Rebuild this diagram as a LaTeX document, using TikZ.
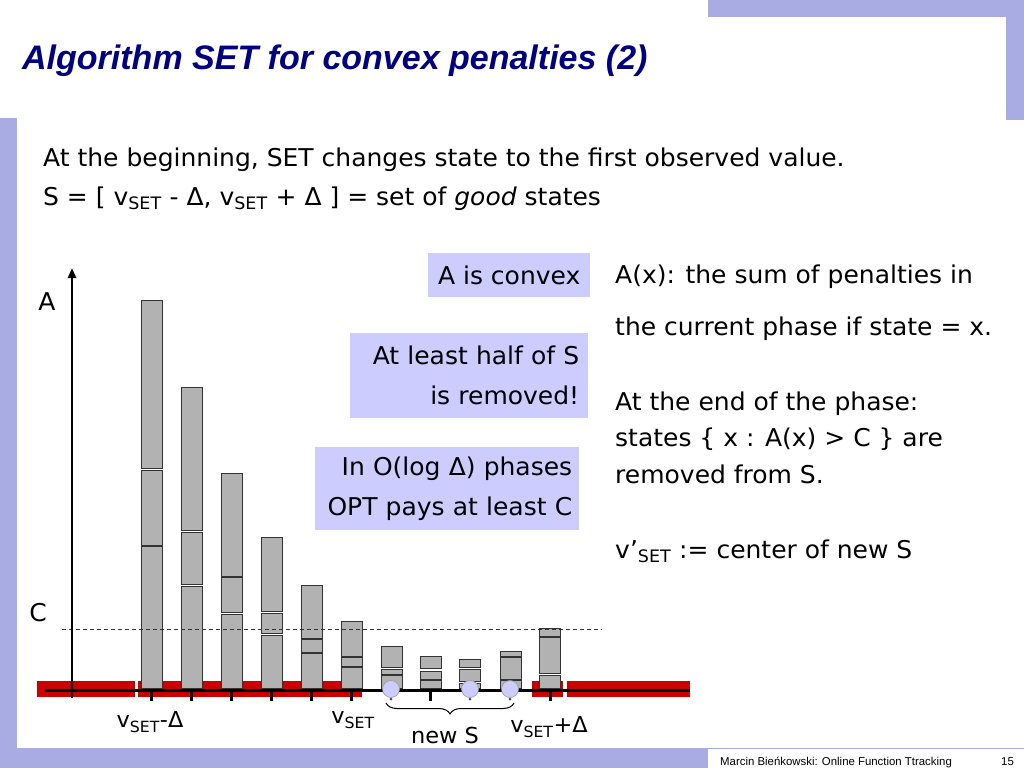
\documentclass[tikz,border=0pt]{standalone}
\usepackage{fontspec}
\setmainfont{DejaVu Sans}[FakeStretch=1.02]
\newfontfamily\arialf{Liberation Sans}
\usetikzlibrary{decorations.pathreplacing,arrows.meta}
\definecolor{lav}{RGB}{168,172,226}
\definecolor{boxfill}{RGB}{204,204,255}
\definecolor{navy}{RGB}{0,0,128}
\definecolor{barred}{RGB}{204,0,0}
\definecolor{bargray}{RGB}{178,178,178}
\newcommand\bodyfont{\fontsize{24.5}{40}\selectfont}
\newcommand\labfont{\fontsize{22}{26}\selectfont}
\begin{document}
\begin{tikzpicture}[x=1pt,y=-1pt,
  txt/.style={inner sep=0pt, anchor=base west, font=\bodyfont},
  infobox/.style={fill=boxfill, inner xsep=8pt, inner ysep=0pt, font=\bodyfont, anchor=north west},
  seg/.style={fill=bargray, draw=black!80, line width=1pt},
  redbar/.style={fill=barred},
  tickline/.style={line width=3pt},
  dot/.style={circle, fill=boxfill, draw=black!40, line width=0.6pt, minimum width=17pt, minimum height=17pt, inner sep=0pt},
  lab/.style={inner sep=0pt, font=\labfont}]
\useasboundingbox (0,0) rectangle (1024,768);
\fill[white] (0,0) rectangle (1024,768);
% frame decorations
\fill[lav] (708,0) rectangle (1024,17);
\fill[lav] (1006,0) rectangle (1024,120);
\fill[lav] (0,118) rectangle (17,768);
\fill[lav] (0,748) rectangle (708,768);
\draw[lav, line width=1pt] (708,748) -- (1024,748);
% title
\node[inner sep=0pt, anchor=base west, text=navy, font=\arialf\bfseries\itshape\fontsize{34}{40}\selectfont] (title) at (22,70) {Algorithm SET for convex penalties (2)};
% body text
\node[txt] (l1) at (43,166) {At the beginning, SET changes state to the first observed value.};
\node[txt] (l2) at (43,205) {S = [ v\textsubscript{SET} - Δ, v\textsubscript{SET} + Δ ] = set of \textit{good} states};
\node[txt] (r1) at (615,283) {A(x): the sum of penalties in};
\node[txt] (r2) at (615,335) {the current phase if state = x.};
\node[txt] (r3) at (615,410) {At the end of the phase:};
\node[txt] (r4) at (615,446) {states \{ x : A(x) > C \} are};
\node[txt] (r5) at (615,483) {removed from S.};
\node[txt] (r6) at (615,558) {v’\textsubscript{SET} := center of new S};
% boxes
\node[infobox, minimum width=162pt, minimum height=44pt] (b1) at (428,253) {A is convex};
\node[infobox, minimum width=238pt, minimum height=85pt, text width=220pt, align=right] (b2) at (350,333) {At least half of S\\is removed!};
\node[infobox, minimum width=264pt, minimum height=83pt, text width=250pt, inner xsep=7pt, align=right] (b3) at (315,447) {In O(log Δ) phases\\OPT pays at least C};
% red bars
\fill[redbar] (37,681) rectangle (135,697);
\fill[redbar] (138,681) rectangle (362,697);
\fill[redbar] (532,681) rectangle (563,697);
\fill[redbar] (567,681) rectangle (690,697);
% bars
\foreach \x/\segs in {141/{300/468,470/545,546/688},
                      181/{387/530,532/584,586/688},
                      221/{473/576,577/612,614/688},
                      261/{537/611,613/633,635/688},
                      301/{585/638,639/652,653/688},
                      341/{621/656,657/666,667/688},
                      381/{646/667,669/674,675/688},
                      420/{656/668,671/679,680/688},
                      459/{659/667,669/681,683/688},
                      500/{651/656,657/679,680/688},
                      539/{628/636,637/673,675/688}}{
  \foreach \ya/\yb in \segs { \draw[seg] (\x,\ya) rectangle (\x+21,\yb); }
}
% threshold line C
\coordinate (cl) at (62,629);
\coordinate (cr) at (602,629);
\draw[dashed, dash pattern=on 4pt off 3pt, line width=0.7pt, black!80] (cl) -- (cr);
% axes
\coordinate (xa) at (45,690);
\coordinate (xb) at (690,690);
\coordinate (ya) at (72,698);
\coordinate (yb) at (72,268);
\draw[line width=3pt] (xa) -- (xb);
\draw[line width=2.5pt, -{Triangle[length=10pt,width=8pt]}] (ya) -- (yb);
\foreach \t in {151,191,231,271,311,351,430,550} { \draw[tickline] (\t,690) -- (\t,701); }
\foreach \t/\n in {391/c1,470/c2,510/c3} {
  \fill[black!70] (\t,699) circle (1.5pt);
  \node[dot] (\n) at (\t,689) {};
}
% brace
\coordinate (bra) at (386,703);
\coordinate (brb) at (514,703);
\draw[line width=1pt, decorate, decoration={brace, mirror, amplitude=11pt}] (bra) -- (brb);
% labels
\node[lab] (A) at (47,302) {\bodyfont A};
\node[lab] (C) at (38,613) {\bodyfont C};
\node[lab] (lm) at (150,722) {v\textsubscript{SET}-Δ};
\node[lab] (lc) at (353,720) {v\textsubscript{SET}};
\node[lab] (ln) at (445,735) {new S};
\node[lab] (lp) at (549,727) {v\textsubscript{SET}+Δ};
% footer
\node[inner sep=0pt, anchor=base west, font=\arialf\fontsize{11.4}{14}\selectfont] (foot) at (720,765) {Marcin Bieńkowski: Online Function Ttracking};
\node[inner sep=0pt, anchor=base west, font=\arialf\fontsize{11.4}{14}\selectfont] (pg) at (1001,765) {15};
\end{tikzpicture}
\end{document}
